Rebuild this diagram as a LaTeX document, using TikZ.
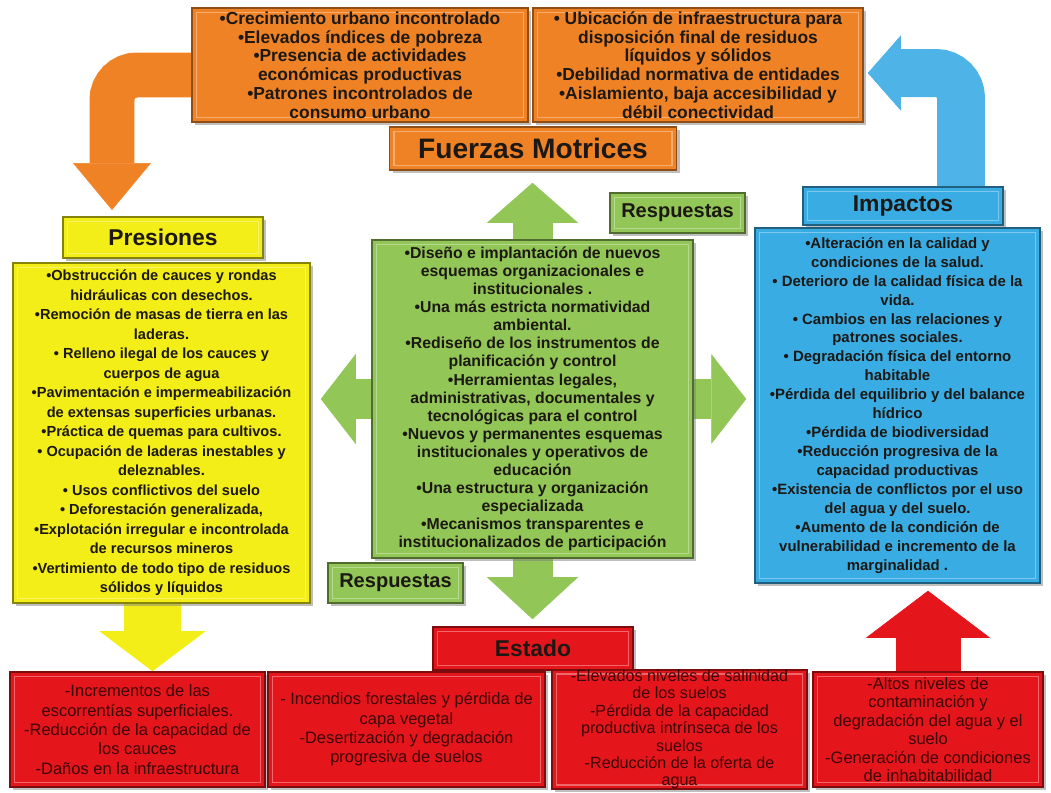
\documentclass[tikz,border=0pt]{standalone}
\usepackage{fontspec}
\setmainfont{Liberation Sans}
\usepackage{xcolor}
\usetikzlibrary{arrows.meta}
\usetikzlibrary{shadows}
\usetikzlibrary{backgrounds}
\definecolor{fuerza-orange}{RGB}{240,130,38}
\definecolor{presion-yellow}{RGB}{244,238,24}
\definecolor{respuesta-green}{RGB}{146,198,86}
\definecolor{impacto-blue}{RGB}{58,172,228}
\definecolor{estado-red}{RGB}{228,22,28}
\definecolor{ink}{RGB}{28,24,20}
\definecolor{red-ink}{RGB}{60,6,6}
\newcommand{\boldsize}[2]{\bfseries\fontsize{#1}{#2}\selectfont}
\newcommand{\plainsize}[2]{\fontsize{#1}{#2}\selectfont}
\tikzstyle{bevel}=[rectangle, line width=0.9pt, align=center, text=ink, inner sep=1pt,
	drop shadow={shadow xshift=1.8pt,shadow yshift=-1.8pt,opacity=0.5},
	path picture={\draw[white,opacity=0.35,line width=1pt] ([shift={(2.5pt,-2.5pt)}]path picture bounding box.north west) rectangle ([shift={(-2.5pt,2.5pt)}]path picture bounding box.south east);}]
\tikzstyle{orangebox}=[bevel, fill=fuerza-orange, draw=fuerza-orange!60!black]
\tikzstyle{yellowbox}=[bevel, fill=presion-yellow, draw=presion-yellow!55!black]
\tikzstyle{greenbox}=[bevel, fill=respuesta-green, draw=respuesta-green!55!black]
\tikzstyle{bluebox}=[bevel, fill=impacto-blue, draw=impacto-blue!55!black]
\tikzstyle{redbox}=[bevel, fill=estado-red, draw=estado-red!55!black, text=red-ink, font=\plainsize{9.4}{11}]
\tikzstyle{heading}=[font=\boldsize{13}{15}]
\newcommand{\fatArrow}[6]{
	\draw[#1, line width=#2, rounded corners=0.5cm, -{Triangle[width=#3,length=#4,line width=0.4pt]}, #5] #6;
}

\begin{document}
\begin{tikzpicture}[x=0.02cm,y=-0.02cm]
	\useasboundingbox (0,0) rectangle (1051,792);
	\node[orangebox, minimum width=6.72cm, minimum height=2.28cm, font=\boldsize{9.9}{10.7}] (orA) at (360,65) {•Crecimiento urbano incontrolado\\•Elevados índices de pobreza\\•Presencia de actividades\\económicas productivas\\•Patrones incontrolados de\\consumo urbano};
	\node[orangebox, minimum width=6.60cm, minimum height=2.28cm, font=\boldsize{9.9}{10.7}] (orB) at (698,65) {• Ubicación de infraestructura para\\disposición final de residuos\\líquidos y sólidos\\•Debilidad normativa de entidades\\•Aislamiento,  baja accesibilidad y\\débil conectividad};
	\node[orangebox, minimum width=5.74cm, minimum height=0.86cm, font=\boldsize{16}{18}] (fm) at (533,148.5) {Fuerzas Motrices};
	\node[yellowbox, heading, minimum width=4cm, minimum height=0.82cm] (pres) at (163,237.5) {Presiones};
	\node[yellowbox, minimum width=5.94cm, minimum height=6.8cm, font=\boldsize{8.3}{11.1}] (yel) at (161.5,433) {•Obstrucción  de cauces y rondas\\hidráulicas  con desechos.\\•Remoción de masas de tierra en las\\laderas.\\• Relleno ilegal de los cauces y\\cuerpos de agua\\•Pavimentación e impermeabilización\\de extensas superficies  urbanas.\\•Práctica de quemas para cultivos.\\• Ocupación de laderas inestables y\\deleznables.\\• Usos  conflictivos  del suelo\\• Deforestación  generalizada,\\•Explotación irregular e incontrolada\\de recursos  mineros\\•Vertimiento de todo tipo de residuos\\sólidos y líquidos};
	\node[greenbox, minimum width=6.42cm, minimum height=6.36cm, font=\boldsize{9}{10.3}] (grn) at (532.5,399) {•Diseño e implantación de nuevos\\esquemas organizacionales e\\institucionales .\\•Una más estricta normatividad\\ambiental.\\•Rediseño de los instrumentos de\\planificación y  control\\•Herramientas legales,\\administrativas, documentales y\\tecnológicas para el control\\•Nuevos y permanentes esquemas\\institucionales y  operativos de\\educación\\•Una estructura y organización\\especializada\\•Mecanismos transparentes e\\institucionalizados de participación};
	\node[greenbox, minimum width=2.7cm, minimum height=0.8cm, font=\boldsize{11.4}{13}] (resA) at (677.5,213) {Respuestas};
	\node[greenbox, minimum width=2.7cm, minimum height=0.8cm, font=\boldsize{11.4}{13}] (resB) at (395.5,583) {Respuestas};
	\node[bluebox, heading, minimum width=4cm, minimum height=0.76cm] (imp) at (903,206) {Impactos};
	\node[bluebox, minimum width=5.7cm, minimum height=7.1cm, font=\boldsize{8.5}{10.8}] (blu) at (897.5,405.5) {•Alteración en la calidad y\\condiciones de la salud.\\• Deterioro de la calidad física de la\\vida.\\• Cambios en las relaciones y\\patrones sociales.\\• Degradación física del entorno\\habitable\\•Pérdida del equilibrio y del balance\\hídrico\\•Pérdida de biodiversidad\\•Reducción progresiva de la\\capacidad productivas\\•Existencia de conflictos por el uso\\del agua y del suelo.\\•Aumento de la condición de\\vulnerabilidad e incremento de la\\marginalidad .};
	\node[redbox, heading, text=ink, minimum width=4cm, minimum height=0.86cm] (est) at (533,648.5) {Estado};
	\node[redbox, minimum width=5.1cm, minimum height=2.3cm] (r1) at (137.5,729.5) {-Incrementos de las\\escorrentías superficiales.\\-Reducción de la capacidad de\\los cauces\\-Daños en la infraestructura};
	\node[redbox, minimum width=5.54cm, minimum height=2.3cm] (r2) at (406.5,729.5) {- Incendios forestales y pérdida de\\capa vegetal\\-Desertización y degradación\\progresiva de suelos};
	\node[redbox, minimum width=5.1cm, minimum height=2.3cm, inner sep=0pt, font=\plainsize{9.2}{9.9}] (r3) at (679.5,729.5) {-Elevados niveles de salinidad\\de los suelos\\-Pérdida de la capacidad\\productiva intrínseca de los\\suelos\\-Reducción de la oferta de\\agua};
	\node[redbox, minimum width=4.6cm, minimum height=2.3cm, font=\plainsize{9.4}{10.5}] (r4) at (928,729.5) {-Altos niveles de\\contaminación y\\degradación del agua y el\\suelo\\-Generación de condiciones\\de inhabitabilidad};
	\coordinate (presIn) at (112,210);
	\begin{scope}[on background layer]
		\fatArrow{fuerza-orange}{0.9cm}{1.56cm}{0.94cm}{}{([yshift=-0.2cm]orA.center) -| (presIn)}
		\fatArrow{impacto-blue!90!white}{0.96cm}{1.5cm}{0.66cm}{}{([xshift=1.16cm]imp.center) |- ([xshift=0.08cm,yshift=-0.16cm]orB.east)}
		\fatArrow{presion-yellow}{1.14cm}{2.12cm}{0.8cm}{}{([xshift=-0.18cm]yel.center) -- ([xshift=-0.18cm]yel.center |- r1.north)}
		\fatArrow{respuesta-green}{0.8cm}{1.82cm}{0.8cm}{shorten >=0.24cm}{(grn.center) -- (grn.center |- fm.south)}
		\fatArrow{respuesta-green}{0.8cm}{1.82cm}{0.84cm}{shorten >=0.14cm}{(grn.center) -- (grn.center |- est.north)}
		\fatArrow{respuesta-green}{0.8cm}{1.8cm}{0.7cm}{shorten >=0.2cm}{(grn.center) -- (grn.center -| yel.east)}
		\fatArrow{respuesta-green}{0.8cm}{1.8cm}{0.7cm}{shorten >=0.16cm}{(grn.center) -- (grn.center -| blu.west)}
		\fatArrow{estado-red}{1.3cm}{2.48cm}{0.94cm}{shorten >=0.14cm}{(r4.center) -- (r4.center |- blu.south)}
	\end{scope}
\end{tikzpicture}
\end{document}
